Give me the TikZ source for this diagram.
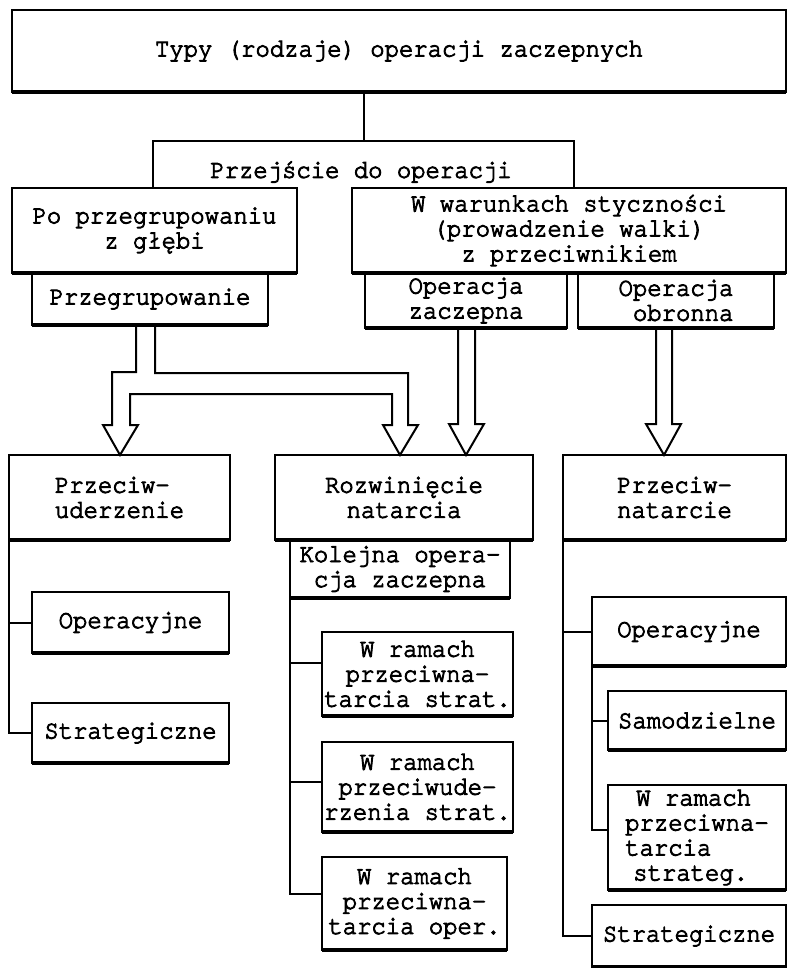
\documentclass[tikz,border=0pt]{standalone}
\usepackage{fontspec}
\newfontfamily\tw[FakeBold=3.5, FakeStretch=0.92]{TeX Gyre Cursor}
\usetikzlibrary{calc}
\begin{document}
\begin{tikzpicture}[x=1pt,y=-1pt,
  txt/.style={font=\tw\fontsize{26}{25}\selectfont, inner sep=0pt, outer sep=0pt, align=center},
  box/.style={txt, draw, line width=2pt},
  ln/.style={line width=2pt},
  pipe/.style={line width=2pt, line join=miter},
  base/.style={line width=4pt}]
\useasboundingbox[fill=white] (0,0) rectangle (788,968);

% top level
\node[box, minimum width=774pt, minimum height=82pt] (top) at (399,51) {Typy (rodzaje) operacji zaczepnych};
\node[txt, minimum width=421pt, minimum height=47pt] (prz) at (363.5,164.5) {};
\node[txt] (przt) at (361,172) {Przejście do operacji};
\draw[ln] (prz.south west) -- (prz.north west) -- (prz.north east) -- (prz.south east);
\draw[ln] (top.south -| prz.north) -- (prz.north);

% second level
\node[box, minimum width=285pt, minimum height=85pt] (pl) at (154.5,230.5) {Po przegrupowaniu\\z głębi};
\node[box, minimum width=434pt, minimum height=85pt] (pr) at (569,230.5) {W warunkach styczności\\(prowadzenie walki)\\z przeciwnikiem};
\node[box, minimum width=236pt, minimum height=52pt] (pg) at (150,299) {Przegrupowanie};
\node[box, minimum width=202pt, minimum height=55pt] (oz) at (466,300.5) {Operacja\\zaczepna};
\node[box, align=right, minimum width=196pt, minimum height=55pt] (oo) at (676,300.5) {Operacja\\obronna};

% third level
\node[box, align=left, minimum width=221pt, minimum height=85pt] (pu) at (119.5,497.5) {Przeciw-\\uderzenie};
\node[box, minimum width=258pt, minimum height=85pt] (rn) at (404,497.5) {Rozwinięcie\\natarcia};
\node[box, align=left, minimum width=223pt, minimum height=85pt] (pn) at (674.5,497.5) {Przeciw-\\natarcie};
\node[box, minimum width=220pt, minimum height=58pt] (ko) at (400,569) {Kolejna opera-\\cja zaczepna};

% hollow arrows
\coordinate (t1) at (120,455);
\coordinate (t2) at (400,455);
\coordinate (t3) at (466,455);
\coordinate (t4) at (664,455);
\draw[pipe] ($(pg.south)+(-14,0)$) |- (112,372) -- (112,425) -- (103,425) -- (t1)
  -- (138,425) -- (130,425) -- (130,394) -- (392,394) -- (392,425) -- (383,425) -- (t2)
  -- (418,425) -- (408,425) -- (408,373) -| ($(pg.south)+(5,0)$);
\draw[pipe] ($(oz.south)+(-8,0)$) -- (458,424) -- (449,424) -- (t3) -- (484,424) -- (475,424) -- ($(oz.south)+(9,0)$);
\draw[pipe] ($(oo.south)+(-20,0)$) -- (656,424) -- (646,424) -- (t4) -- (681,424) -- (672,424) -- ($(oo.south)+(-4,0)$);

% left column
\node[box, minimum width=197pt, minimum height=61pt] (lo) at (130.5,622.5) {Operacyjne};
\node[box, minimum width=197pt, minimum height=60pt] (ls) at (130.5,733) {Strategiczne};
\draw[ln] (pu.south west) |- (ls.west);
\draw[ln] (lo.west -| pu.south west) -- (lo.west);

% middle column
\node[box, minimum width=191pt, minimum height=84pt] (m1) at (417.5,674) {W ramach\\przeciwna-\\tarcia strat.};
\node[box, minimum width=191pt, minimum height=90pt] (m2) at (417.5,787) {W ramach\\przeciwude-\\rzenia strat.};
\node[box, minimum width=185pt, minimum height=93pt] (m3) at (414.5,903.5) {W ramach\\przeciwna-\\tarcia oper.};
\coordinate (m1c) at ($(m1.west)+(0,-11)$);
\coordinate (m2c) at ($(m2.west)+(0,-5)$);
\coordinate (m3c) at ($(m3.west)+(0,-9.5)$);
\draw[ln] (ko.south west) |- (m3c);
\draw[ln] (m1c -| ko.south west) -- (m1c);
\draw[ln] (m2c -| ko.south west) -- (m2c);

% right column
\node[box, minimum width=194pt, minimum height=69pt] (ro) at (689,631.5) {Operacyjne};
\node[box, minimum width=178pt, minimum height=59pt] (rs) at (697,720.5) {Samodzielne};
\node[box, align=left, minimum width=178pt, minimum height=105pt] (rw) at (697,837.5) {\hspace*{11pt}W ramach\\przeciwna-\\tarcia\\\hspace*{8pt}strateg.};
\node[box, minimum width=194pt, minimum height=62pt] (rst) at (689,936) {Strategiczne};
\coordinate (rwc) at ($(rw.west)+(0,-7.5)$);
\draw[ln] (pn.south west) |- (rst.west);
\draw[ln] (ro.west -| pn.south west) -- (ro.west);
\draw[ln] (ro.south west) |- (rwc);
\draw[ln] (rs.west -| ro.south west) -- (rs.west);

% heavier lower edges
\foreach \n in {top,pl,pr,pg,oz,oo,pu,rn,pn,ko,lo,ls,m1,m2,m3,ro,rs,rw,rst}
  \draw[base] (\n.south west) -- (\n.south east);
\end{tikzpicture}
\end{document}
